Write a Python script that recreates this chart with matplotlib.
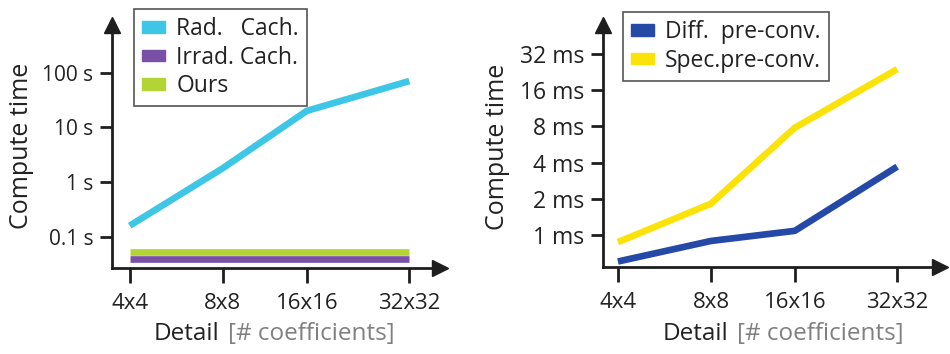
#!/usr/bin/env python3
import matplotlib
matplotlib.use("Agg")
import matplotlib.pyplot as plt
from matplotlib.patches import Patch

plt.rcParams["font.family"] = ["Open Sans", "DejaVu Sans"]

DETAIL = ["4x4", "8x8", "16x16", "32x32"]

# left panel: seconds
RAD_CACH = [0.16, 1.8, 20, 70]
IRRAD_CACH = [0.04, 0.04, 0.04, 0.04]
OURS = [0.054, 0.054, 0.054, 0.054]
LEFT_TICKS = [0.1, 1, 10, 100]
LEFT_TICK_LABELS = ["0.1 s", "1 s", "10 s", "100 s"]

# right panel: milliseconds
DIFF_PRECONV = [0.6, 0.89, 1.08, 3.7]
SPEC_PRECONV = [0.87, 1.82, 7.8, 24]
RIGHT_TICKS = [1, 2, 4, 8, 16, 32]
RIGHT_TICK_LABELS = ["1 ms", "2 ms", "4 ms", "8 ms", "16 ms", "32 ms"]

# layout: the categories are not quite evenly spaced in the original
X_POS = [0, 1, 1.9, 3]

COLORS = {
    "rad": "#3ec6e6",
    "irrad": "#7a4fa6",
    "ours": "#b4d335",
    "diff": "#2449a6",
    "spec": "#fbe30a",
}
AXIS_COLOR = "#1e1e1e"
TEXT_COLOR = "#222222"
LW = 4.8


def style_axes(ax, xlim, ylim, ytick_size):
    ax.set_xlim(*xlim)
    ax.set_ylim(*ylim)
    for s in ("top", "right"):
        ax.spines[s].set_visible(False)
    for s in ("left", "bottom"):
        ax.spines[s].set_linewidth(2.0)
        ax.spines[s].set_color(AXIS_COLOR)
    ax.set_xticks(X_POS)
    ax.set_xticklabels(DETAIL)
    ax.tick_params(axis="x", which="major", length=11, width=2.0,
                   color=AXIS_COLOR, labelsize=16, labelcolor=TEXT_COLOR, pad=7)
    ax.tick_params(axis="y", which="major", length=8.5, width=2.0,
                   color=AXIS_COLOR, labelsize=ytick_size, labelcolor=TEXT_COLOR, pad=5)
    ax.patch.set_alpha(0)
    # arrow heads on the axes
    ax.plot(1, 0, ">", color=AXIS_COLOR, markersize=11, transform=ax.transAxes, clip_on=False)
    ax.plot(0, 1, "^", color=AXIS_COLOR, markersize=11, transform=ax.transAxes, clip_on=False)


def add_legend(ax, handles, labels, anchor):
    leg = ax.legend(handles, labels, loc="upper left", bbox_to_anchor=anchor,
                    borderaxespad=0, fontsize=16.5, fancybox=False, framealpha=1,
                    edgecolor="#555555", handlelength=1.0, handleheight=0.4,
                    handletextpad=0.5, labelspacing=0.2, borderpad=0.35)
    leg.get_frame().set_linewidth(1.2)
    for t in leg.get_texts():
        t.set_color(TEXT_COLOR)


def detail_label(fig, x_right, x_left, y):
    fig.text(x_right / 950, 1 - y / 354, "Detail", ha="right", va="center",
             fontsize=17.5, color=TEXT_COLOR)
    fig.text(x_left / 950, 1 - y / 354, "[# coefficients]", ha="left", va="center",
             fontsize=17.5, color="#808080")


def main():
    fig = plt.figure(figsize=(9.5, 3.54), dpi=100)

    ax1 = fig.add_axes([112 / 950, 1 - 268 / 354, 328 / 950, 243 / 354])
    ax1.set_yscale("log")
    ax1.plot(X_POS, OURS, color=COLORS["ours"], lw=LW, solid_capstyle="butt")
    ax1.plot(X_POS, IRRAD_CACH, color=COLORS["irrad"], lw=LW, solid_capstyle="butt")
    ax1.plot(X_POS, RAD_CACH, color=COLORS["rad"], lw=LW, solid_capstyle="butt")
    style_axes(ax1, (-0.19, 3.33), (0.027, 740), 15)
    ax1.set_yticks(LEFT_TICKS)
    ax1.set_yticklabels(LEFT_TICK_LABELS)
    ax1.minorticks_off()
    add_legend(ax1, [Patch(color=COLORS["rad"]), Patch(color=COLORS["irrad"]), Patch(color=COLORS["ours"])],
               ["Rad.   Cach.", "Irrad. Cach.", "Ours"], (0.067, 1.066))
    fig.text(22 / 950, 1 - 146 / 354, "Compute time", rotation=90, ha="center", va="center",
             fontsize=18, color=TEXT_COLOR)

    ax2 = fig.add_axes([603 / 950, 1 - 267 / 354, 337 / 950, 242 / 354])
    ax2.set_yscale("log", base=2)
    ax2.plot(X_POS, SPEC_PRECONV, color=COLORS["spec"], lw=LW, solid_capstyle="butt")
    ax2.plot(X_POS, DIFF_PRECONV, color=COLORS["diff"], lw=LW, solid_capstyle="butt")
    style_axes(ax2, (-0.16, 3.46), (0.54, 56), 16.5)
    ax2.set_yticks(RIGHT_TICKS)
    ax2.set_yticklabels(RIGHT_TICK_LABELS)
    ax2.minorticks_off()
    add_legend(ax2, [Patch(color=COLORS["diff"]), Patch(color=COLORS["spec"])],
               ["Diff.  pre-conv.", "Spec.pre-conv."], (0.059, 1.054))
    fig.text(498 / 950, 1 - 147 / 354, "Compute time", rotation=90, ha="center", va="center",
             fontsize=18, color=TEXT_COLOR)

    detail_label(fig, 219, 228, 334)
    detail_label(fig, 728, 737, 334)

    fig.savefig("out.png", dpi=100)
    plt.close(fig)


if __name__ == "__main__":
    main()
